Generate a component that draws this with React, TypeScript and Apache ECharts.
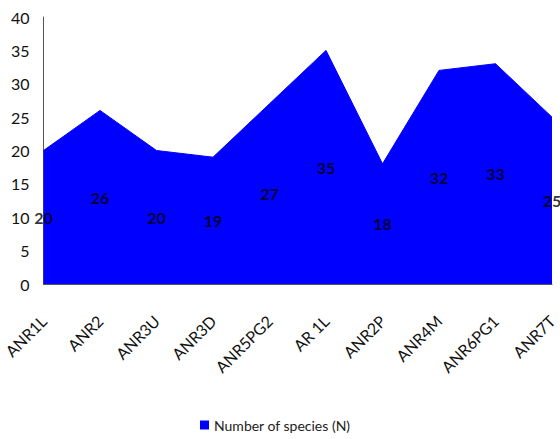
import React, { useEffect, useRef } from "react";
import * as echarts from "echarts";

const sites = ["ANR1L", "ANR2", "ANR3U", "ANR3D", "ANR5PG2", "AR 1L", "ANR2P", "ANR4M", "ANR6PG1", "ANR7T"];
const speciesCount = [20, 26, 20, 19, 27, 35, 18, 32, 33, 25];
const yTicks = { min: 0, max: 40, step: 5 };
const seriesName = "Number of species (N)";

const FONT = "Lato, 'Liberation Sans', sans-serif";

export default function App() {
  const ref = useRef<HTMLDivElement>(null);

  useEffect(() => {
    document.body.style.margin = "0";
    if (!ref.current) return;
    const chart = echarts.init(ref.current, null, { renderer: "svg" });

    // value labels sit halfway up each column of the area
    const labelPoints = speciesCount.map((v, i) => [i, v / 2, v]);

    chart.setOption({
      animation: false,
      backgroundColor: "#ffffff",
      grid: { left: 42, right: 8, top: 17, bottom: 155, containLabel: false },
      legend: {
        data: [seriesName],
        bottom: 2,
        left: 195,
        icon: "rect",
        itemWidth: 9,
        itemHeight: 9,
        itemGap: 4,
        textStyle: { fontFamily: FONT, fontSize: 14, color: "#222" },
      },
      xAxis: {
        type: "category",
        data: sites,
        boundaryGap: false,
        axisLine: { lineStyle: { color: "#555", width: 1 } },
        axisTick: { show: false },
        axisLabel: {
          rotate: 45,
          margin: 34,
          interval: 0,
          fontFamily: FONT,
          fontSize: 16,
          color: "#111",
        },
      },
      yAxis: {
        type: "value",
        min: yTicks.min,
        max: yTicks.max,
        interval: yTicks.step,
        axisLine: { show: true, lineStyle: { color: "#555", width: 1 } },
        axisTick: { show: false },
        splitLine: { show: false },
        axisLabel: { margin: 14, fontFamily: FONT, fontSize: 16, color: "#111" },
      },
      series: [
        {
          name: seriesName,
          type: "line",
          data: speciesCount,
          symbol: "none",
          z: 1,
          lineStyle: { color: "#0000ff", width: 1 },
          itemStyle: { color: "#0000ff" },
          areaStyle: { color: "#0000ff", opacity: 1 },
        },
        {
          name: "labels",
          type: "scatter",
          data: labelPoints,
          symbolSize: 0,
          silent: true,
          z: 10,
          zlevel: 1,
          label: {
            show: true,
            position: "inside",
            formatter: (p: any) => String(p.value[2]),
            fontFamily: FONT,
            fontSize: 16,
            fontWeight: "bold",
            color: "#000",
          },
        },
      ],
    });

    return () => chart.dispose();
  }, []);

  return <div ref={ref} style={{ width: 560, height: 439 }} />;
}
